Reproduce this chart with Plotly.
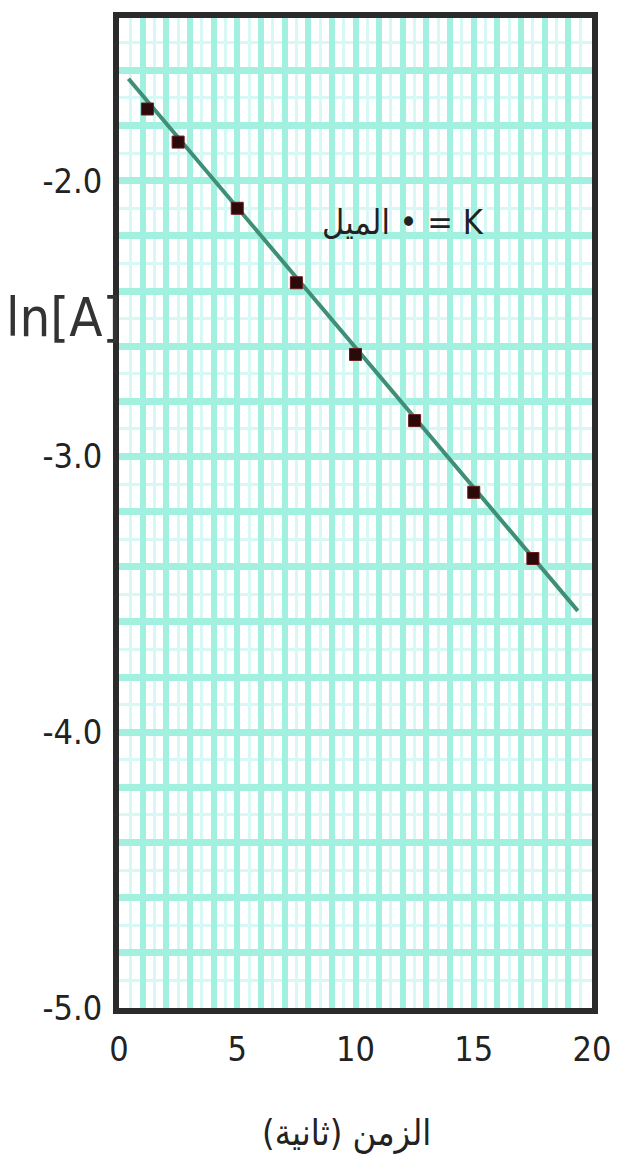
import plotly.graph_objects as go

# data
time_s = [1.2, 2.5, 5.0, 7.5, 10.0, 12.5, 15.0, 17.5]
ln_A = [-1.74, -1.86, -2.10, -2.37, -2.63, -2.87, -3.13, -3.37]
fit_x = [0.4, 19.4]
fit_y = [-1.63, -3.56]

x_tickvals = list(range(0, 21))
x_ticktext = [str(v) if v % 5 == 0 else "" for v in x_tickvals]
y_tickvals = [round(-5 + 0.2 * i, 1) for i in range(0, 19)]
y_ticktext = [f"{v:.1f}" if abs(v - round(v)) < 1e-9 else "" for v in y_tickvals]

slope_label = "الميل • = K"
x_title = "الزمن (ثانية)"
y_title = "ln[A]"

FONT = "DejaVu Sans Condensed, Liberation Sans Narrow, sans-serif"
MAJOR = "#A2F0E0"
MINOR = "#D8F8F6"

fig = go.Figure()
fig.add_trace(go.Scatter(x=fit_x, y=fit_y, mode="lines",
                         line=dict(color="#3E8F76", width=4), hoverinfo="skip",
                         showlegend=False))
fig.add_trace(go.Scatter(x=time_s, y=ln_A, mode="markers",
                         marker=dict(size=12, color="#2A0A0A", symbol="square",
                                     line=dict(color="#6B1A1A", width=1)),
                         showlegend=False))

W, H = 623, 1173
L, R, T, B = 119, 23, 18, 165

fig.update_layout(
    width=W, height=H,
    margin=dict(l=L, r=R, t=T, b=B),
    plot_bgcolor="white", paper_bgcolor="white",
    font=dict(family=FONT, color="#333333"),
    xaxis=dict(range=[0, 20], tickmode="array", tickvals=x_tickvals, ticktext=x_ticktext,
               showgrid=True, gridcolor=MAJOR, gridwidth=6,
               minor=dict(tickmode="linear", tick0=0, dtick=0.5, showgrid=True,
                          gridcolor=MINOR, gridwidth=3),
               showline=True, linecolor="#2B2B2B", linewidth=6, mirror=True,
               ticks="", zeroline=False, ticklabelstandoff=6,
               tickfont=dict(size=34, family=FONT, color="#222222")),
    yaxis=dict(range=[-5, -1.41], tickmode="array", tickvals=y_tickvals, ticktext=y_ticktext,
               showgrid=True, gridcolor=MAJOR, gridwidth=7,
               minor=dict(tickmode="linear", tick0=-5, dtick=0.1, showgrid=True,
                          gridcolor=MINOR, gridwidth=3),
               showline=True, linecolor="#2B2B2B", linewidth=6, mirror=True,
               ticks="", zeroline=False, ticklabelstandoff=4,
               tickfont=dict(size=34, family=FONT, color="#222222")),
)

pw, ph = W - L - R, H - T - B


def ann(text, px, py, size, color):
    return dict(text=text, x=(px - L) / pw, y=(H - B - py) / ph, xref="paper", yref="paper",
                xanchor="center", yanchor="middle", showarrow=False,
                font=dict(size=size, family=FONT, color=color))


fig.update_layout(annotations=[
    ann(slope_label, 408, 222, 34, "#222222"),
    ann(y_title, 63, 318, 54, "#333333"),
    ann(x_title, 350, 1133, 36, "#222222"),
])

fig.write_html("out.html", config={"displayModeBar": False},
               post_script="document.body.style.margin='0px';")
